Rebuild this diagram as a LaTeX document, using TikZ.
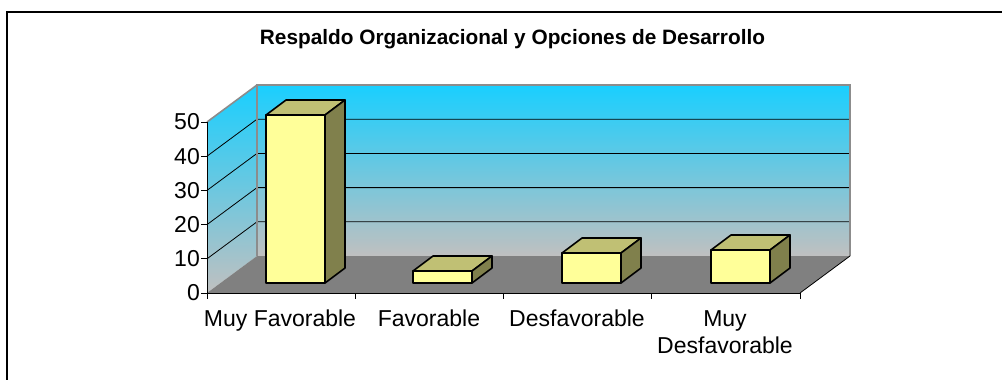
\documentclass[tikz,border=0pt]{standalone}
\usepackage{fontspec}
\setmainfont{Liberation Sans}
\definecolor{wallTop}{RGB}{25,207,255}
\definecolor{wallBot}{RGB}{192,192,192}
\definecolor{floorC}{RGB}{128,128,128}
\definecolor{barFront}{RGB}{255,255,153}
\definecolor{barTop}{RGB}{192,192,116}
\definecolor{barSide}{RGB}{128,128,76}
\definecolor{edgeGray}{RGB}{140,140,140}
\tikzset{
  barstyle/.style={draw=black,line width=1.6pt,line join=round},
  gridl/.style={draw=black,line width=0.8pt},
  wallEdge/.style={draw=edgeGray,line width=1.6pt},
  axisl/.style={draw=black,line width=1pt},
  lbl/.style={inner sep=0pt,font=\fontsize{23}{27}\selectfont},
  ttl/.style={inner sep=0pt,font=\bfseries\fontsize{20.8}{24}\selectfont}
}
\newcommand\barbox[2]{%
  \filldraw[barstyle,fill=barFront] (#1,-283) rectangle (#1+59,-#2);
  \filldraw[barstyle,fill=barTop] (#1,-#2) -- (#1+20,-#2+15) -- (#1+79,-#2+15) -- (#1+59,-#2) -- cycle;
  \filldraw[barstyle,fill=barSide] (#1+59,-283) -- (#1+59,-#2) -- (#1+79,-#2+15) -- (#1+79,-268) -- cycle;
}
\begin{document}
\begin{tikzpicture}[x=1pt,y=1pt]
\useasboundingbox (0,0) rectangle (1002,-380);
\begin{scope}
\clip (0,0) rectangle (1002,-380);
\draw[line width=1.6pt] (7,-12) rectangle (1020,-400);
\end{scope}
% walls
\shade[top color=wallTop,bottom color=wallBot] (257,-85) rectangle (850,-256);
\shade[top color=wallTop,bottom color=wallBot] (207,-122) -- (257,-85) -- (257,-256) -- (207,-293) -- cycle;
% floor
\fill[floorC] (207,-293) -- (800,-293) -- (850,-256) -- (257,-256) -- cycle;
% gridlines
\foreach \v in {1,...,4} {
  \draw[gridl] (207,{-293+34.2*\v}) -- (257,{-256+34.2*\v}) -- (850,{-256+34.2*\v});
}
% wall edges
\draw[wallEdge] (257,-256) -- (257,-85) -- (850,-85) -- (850,-256);
\draw[wallEdge] (207,-122) -- (257,-85);
\draw[line width=0.8pt] (800,-293) -- (850,-256);
% axes
\draw[axisl] (207,-122) -- (207,-293) -- (800,-293);
\foreach \v in {0,...,5} {
  \draw[axisl] (201,{-293+34.2*\v}) -- (207,{-293+34.2*\v});
  \pgfmathtruncatemacro\lab{10*\v}
  \node[lbl,anchor=east] (y\v) at (200,{-293+34.2*\v}) {\lab};
}
\foreach \x in {207,355,503,651,800} {
  \draw[axisl] (\x,-293) -- (\x,-299);
}
% bars
\barbox{266}{115}
\barbox{413}{271}
\barbox{562}{253}
\barbox{711}{250}
% labels
\node[lbl,anchor=base] (c1) at (280,-326) {Muy Favorable};
\node[lbl,anchor=base] (c2) at (429,-326) {Favorable};
\node[lbl,anchor=base] (c3) at (577,-326) {Desfavorable};
\node[lbl,anchor=base] (c4a) at (725,-326) {Muy};
\node[lbl,anchor=base] (c4b) at (725,-353) {Desfavorable};
\node[ttl,anchor=base] (title) at (512.5,-45) {Respaldo Organizacional y Opciones de Desarrollo};
\end{tikzpicture}
\end{document}
